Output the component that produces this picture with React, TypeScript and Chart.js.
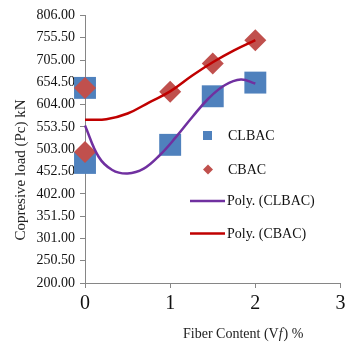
import React, { useEffect, useRef } from 'react';
import { Chart, registerables } from 'chart.js';
Chart.register(...registerables);

const clbacX = [0, 0, 1, 1.5, 2];
const clbacY = [642, 472, 513, 623, 654];
const cbacX = [0, 0, 1, 1.5, 2];
const cbacY = [642, 497, 633, 697, 750];
const polyClbacX = [0, 0.16, 0.32, 0.5, 0.69, 0.88, 1.07, 1.26, 1.45, 1.64, 1.83, 2];
const polyClbacY = [557, 486, 456, 448, 459, 490, 531, 576, 618, 648, 661, 652];
const polyCbacX = [0, 0.25, 0.5, 0.76, 1, 1.26, 1.5, 1.75, 2];
const polyCbacY = [570, 571, 584, 610, 634, 670, 700, 727, 750];
const yTicks = [200, 250.5, 301, 351.5, 402, 452.5, 503, 553.5, 604, 654.5, 705, 755.5, 806];
const xTicks = [0, 1, 2, 3];
const seriesNames = ['CLBAC', 'CBAC', 'Poly. (CLBAC)', 'Poly. (CBAC)'];
const yTitle = 'Copresive load (Pc) kN';

const BLUE = '#4F81BD';
const RED = '#C0504D';
const PURPLE = '#7030A0';
const DARKRED = '#C00000';
const AXIS = '#868686';
const FONT = "'Liberation Serif', 'Times New Roman', serif";

const zip = (xs: number[], ys: number[]) => xs.map((x, i) => ({ x, y: ys[i] }));

const overlay = {
  id: 'overlay',
  afterDraw(chart: any) {
    const ctx = chart.ctx as CanvasRenderingContext2D;
    ctx.save();
    ctx.fillStyle = '#222';
    // y title
    ctx.save();
    ctx.translate(21, 170);
    ctx.rotate(-Math.PI / 2);
    ctx.font = `15px ${FONT}`;
    ctx.textAlign = 'center';
    ctx.textBaseline = 'middle';
    ctx.fillText(yTitle, 0, 0);
    ctx.restore();
    // x title with italic f
    ctx.textBaseline = 'alphabetic';
    ctx.textAlign = 'left';
    let x = 183;
    const yb = 338;
    const parts: [string, boolean][] = [['Fiber Content (V', false], ['f', true], [') %', false]];
    for (const [t, it] of parts) {
      ctx.font = `${it ? 'italic ' : ''}14px ${FONT}`;
      ctx.fillText(t, x, yb);
      x += ctx.measureText(t).width + (it ? 1 : 0);
    }
    // legend
    ctx.font = `14px ${FONT}`;
    ctx.textBaseline = 'middle';
    ctx.fillStyle = BLUE;
    ctx.fillRect(203, 131, 9, 9);
    ctx.fillStyle = RED;
    ctx.beginPath();
    ctx.moveTo(208, 164.5);
    ctx.lineTo(213, 169.5);
    ctx.lineTo(208, 174.5);
    ctx.lineTo(203, 169.5);
    ctx.closePath();
    ctx.fill();
    ctx.lineWidth = 2.5;
    ctx.strokeStyle = PURPLE;
    ctx.beginPath();
    ctx.moveTo(190, 201);
    ctx.lineTo(225, 201);
    ctx.stroke();
    ctx.strokeStyle = DARKRED;
    ctx.beginPath();
    ctx.moveTo(190, 233.5);
    ctx.lineTo(225, 233.5);
    ctx.stroke();
    ctx.fillStyle = '#111';
    ctx.fillText(seriesNames[0], 228, 136);
    ctx.fillText(seriesNames[1], 228, 170);
    ctx.fillText(seriesNames[2], 227, 201);
    ctx.fillText(seriesNames[3], 227, 234);
    ctx.restore();
  },
};

export default function App() {
  const ref = useRef<HTMLCanvasElement>(null);
  useEffect(() => {
    const chart = new Chart(ref.current!, {
      type: 'scatter',
      data: {
        datasets: [
          {
            label: seriesNames[2],
            data: zip(polyClbacX, polyClbacY),
            showLine: true,
            borderColor: PURPLE,
            borderWidth: 2.5,
            pointRadius: 0,
            tension: 0.4,
            clip: false,
            order: 0,
          },
          {
            label: seriesNames[3],
            data: zip(polyCbacX, polyCbacY),
            showLine: true,
            borderColor: DARKRED,
            borderWidth: 2.5,
            pointRadius: 0,
            tension: 0.4,
            clip: false,
            order: 0,
          },
          {
            label: seriesNames[1],
            data: zip(cbacX, cbacY),
            pointStyle: 'rectRot',
            pointRadius: 11,
            backgroundColor: RED,
            borderColor: RED,
            borderWidth: 0,
            clip: false,
            order: 1,
          },
          {
            label: seriesNames[0],
            data: zip(clbacX, clbacY),
            pointStyle: 'rect',
            pointRadius: 15.5,
            backgroundColor: BLUE,
            borderColor: BLUE,
            borderWidth: 0,
            clip: false,
            order: 2,
          },
        ],
      },
      options: {
        responsive: false,
        animation: false,
        devicePixelRatio: 1,
        layout: { padding: { top: 15, right: 7, left: 0, bottom: 0 } },
        plugins: { legend: { display: false }, tooltip: { enabled: false } },
        scales: {
          x: {
            type: 'linear',
            min: 0,
            max: 3,
            afterBuildTicks: (s: any) => {
              s.ticks = xTicks.map((v) => ({ value: v }));
            },
            afterFit: (s: any) => {
              s.height = 60;
            },
            grid: { drawOnChartArea: false, drawTicks: true, tickLength: 5, color: AXIS, tickColor: AXIS },
            border: { color: AXIS, width: 1 },
            ticks: { font: { family: FONT, size: 20 }, color: '#111', padding: 4, callback: (v: any) => String(v) },
          },
          y: {
            type: 'linear',
            min: 200,
            max: 806,
            afterBuildTicks: (s: any) => {
              s.ticks = yTicks.map((v) => ({ value: v }));
            },
            afterFit: (s: any) => {
              s.width = 85;
            },
            grid: { drawOnChartArea: false, drawTicks: true, tickLength: 5, color: AXIS, tickColor: AXIS },
            border: { color: AXIS, width: 1 },
            ticks: { font: { family: FONT, size: 14 }, color: '#111', padding: 5, callback: (v: any) => Number(v).toFixed(2) },
          },
        },
      },
      plugins: [overlay],
    });
    return () => chart.destroy();
  }, []);
  return (
    <div style={{ position: 'fixed', left: 0, top: 0, width: 356, height: 343, background: '#fff' }}>
      <canvas ref={ref} width={356} height={343} />
    </div>
  );
}
